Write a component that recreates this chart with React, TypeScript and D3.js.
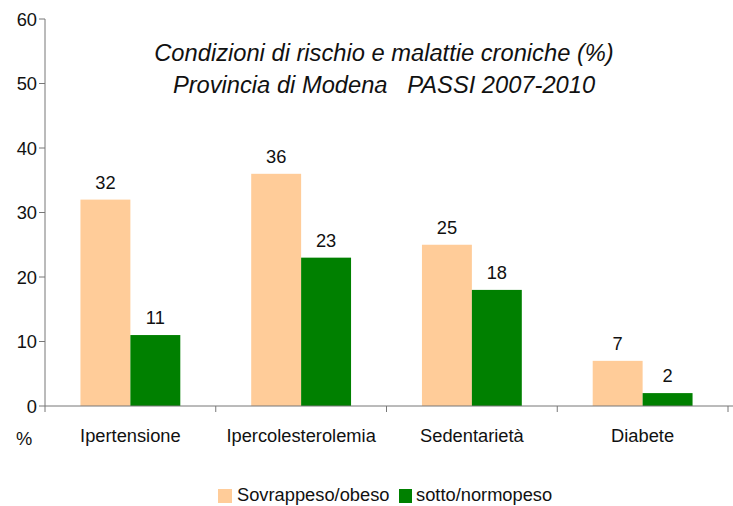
import * as d3 from "d3";

const categories = ["Ipertensione", "Ipercolesterolemia", "Sedentarietà", "Diabete"];
const seriesNames = ["Sovrappeso/obeso", "sotto/normopeso"];
const sovrappeso = [32, 36, 25, 7];
const normopeso = [11, 23, 18, 2];
const yTicks = [0, 10, 20, 30, 40, 50, 60];
const titleLines = [
  "Condizioni di rischio e malattie croniche (%)",
  "Provincia di Modena   PASSI 2007-2010",
];

const colors = ["#FFCC99", "#008000"];
const font = "'Liberation Sans', Arial, sans-serif";

export default function App() {
  const width = 733;
  const height = 506;
  const left = 45;
  const right = 728;
  const y = d3.scaleLinear().domain([0, 60]).range([406, 19]);
  const x = d3.scaleBand().domain(categories).range([left, right]).paddingInner(0).paddingOuter(0);
  const inner = d3
    .scaleBand()
    .domain(seriesNames)
    .range([0, x.bandwidth()])
    .paddingOuter(0.71)
    .paddingInner(0);
  const series = [sovrappeso, normopeso];
  const axisColor = "#777";
  const fs = 18.3;

  return (
    <svg
      width={width}
      height={height}
      style={{ position: "absolute", left: 0, top: 0, background: "#fff" }}
      fontFamily={font}
    >
      {/* bars */}
      {series.map((vals, si) =>
        categories.map((c, ci) => (
          <rect
            key={`${si}-${ci}`}
            x={(x(c) ?? 0) + (inner(seriesNames[si]) ?? 0)}
            y={y(vals[ci])}
            width={inner.bandwidth()}
            height={y(0) - y(vals[ci])}
            fill={colors[si]}
          />
        ))
      )}
      {/* value labels */}
      {series.map((vals, si) =>
        categories.map((c, ci) => (
          <text
            key={`l${si}-${ci}`}
            x={(x(c) ?? 0) + (inner(seriesNames[si]) ?? 0) + inner.bandwidth() / 2}
            y={y(vals[ci]) - 11}
            textAnchor="middle"
            fontSize={fs}
            fill="#111"
          >
            {vals[ci]}
          </text>
        ))
      )}
      {/* y axis */}
      <line x1={left} x2={left} y1={y(60)} y2={y(0)} stroke={axisColor} />
      {yTicks.map((t) => (
        <g key={t}>
          <line x1={left - 6} x2={left} y1={y(t)} y2={y(t)} stroke={axisColor} />
          <text x={left - 8} y={y(t) + 6.5} textAnchor="end" fontSize={fs} fill="#111">
            {t}
          </text>
        </g>
      ))}
      {/* x axis */}
      <line x1={left} x2={width} y1={y(0)} y2={y(0)} stroke={axisColor} />
      {[...categories.map((c) => x(c) ?? 0), right].map((p, i) => (
        <line key={i} x1={p} x2={p} y1={y(0)} y2={y(0) + 6} stroke={axisColor} />
      ))}
      {categories.map((c) => (
        <text
          key={c}
          x={(x(c) ?? 0) + x.bandwidth() / 2}
          y={442}
          textAnchor="middle"
          fontSize={fs}
          fill="#111"
        >
          {c}
        </text>
      ))}
      <text x={16} y={445} fontSize={fs} fill="#111">
        %
      </text>
      {/* title */}
      {titleLines.map((t, i) => (
        <text
          key={i}
          x={384}
          y={61 + i * 32}
          textAnchor="middle"
          fontSize={23.7}
          fontStyle="italic"
          fill="#111"
          style={{ whiteSpace: "pre" }}
        >
          {t}
        </text>
      ))}
      {/* legend */}
      <rect x={218} y={489} width={14} height={14} fill={colors[0]} />
      <text x={237} y={501} fontSize={fs} fill="#111">
        {seriesNames[0]}
      </text>
      <rect x={399} y={489} width={13} height={14} fill={colors[1]} />
      <text x={416} y={501} fontSize={fs} fill="#111">
        {seriesNames[1]}
      </text>
    </svg>
  );
}
